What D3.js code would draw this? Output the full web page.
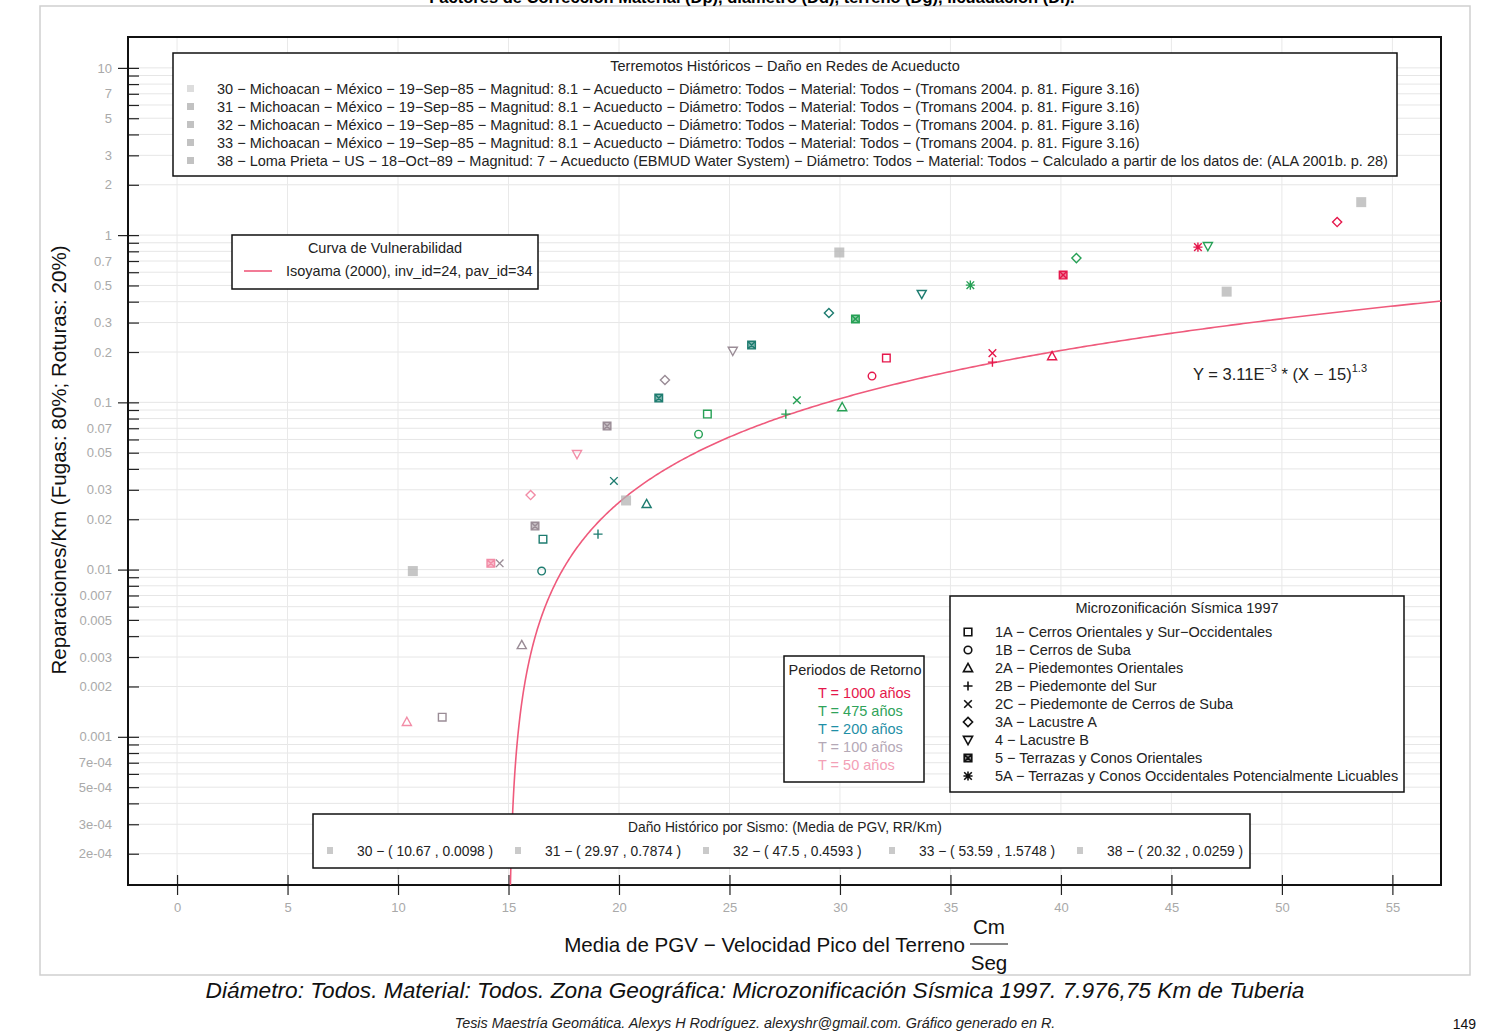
<!DOCTYPE html>
<html>
<head>
<meta charset="utf-8">
<script src="https://cdn.jsdelivr.net/npm/d3@7"></script>
<style>
  body { margin: 0; background: #fff; }
  svg { display: block; font-family: "Liberation Sans", Arial, sans-serif; }
</style>
</head>
<body>
<div id="chart"></div>
<script>
// Zonas de microzonificación
const zoneCodes = ["1A", "1B", "2A", "2B", "2C", "3A", "4", "5", "5A"];
const zoneNames = [
  "1A − Cerros Orientales y Sur−Occidentales",
  "1B − Cerros de Suba",
  "2A − Piedemontes Orientales",
  "2B − Piedemonte del Sur",
  "2C − Piedemonte de Cerros de Suba",
  "3A − Lacustre A",
  "4 − Lacustre B",
  "5 − Terrazas y Conos Orientales",
  "5A − Terrazas y Conos Occidentales Potencialmente Licuables"
];
const zoneShapes = ["square", "circle", "triUp", "plus", "cross", "diamond", "triDown", "boxX", "star"];

// Periodos de retorno
const periods = [1000, 475, 200, 100, 50];
const periodLabels = ["T = 1000 años", "T = 475 años", "T = 200 años", "T = 100 años", "T = 50 años"];

// Puntos (Media de PGV, RR/Km, zona, periodo)
const ptPgv = [12.0, 16.56, 24.0, 32.1,
  16.5, 23.6, 31.45,
  10.4, 15.6, 21.25, 30.1, 39.6,
  19.05, 27.55, 36.9,
  14.6, 19.77, 28.05, 36.9,
  16.0, 22.08, 29.5, 40.7, 52.5,
  18.1, 25.15, 33.7, 46.65,
  14.2, 16.2, 19.46, 21.8, 26.0, 30.7, 40.1,
  35.9, 46.2];
const ptRr = [0.00131, 0.0152, 0.0851, 0.184,
  0.0098, 0.0645, 0.1436,
  0.00123, 0.00354, 0.0247, 0.0937, 0.189,
  0.0163, 0.085, 0.174,
  0.0109, 0.0339, 0.103, 0.197,
  0.0279, 0.136, 0.342, 0.729, 1.197,
  0.049, 0.203, 0.444, 0.859,
  0.0109, 0.0182, 0.0721, 0.106, 0.22, 0.315, 0.577,
  0.502, 0.848];
const ptZone = ["1A", "1A", "1A", "1A",
  "1B", "1B", "1B",
  "2A", "2A", "2A", "2A", "2A",
  "2B", "2B", "2B",
  "2C", "2C", "2C", "2C",
  "3A", "3A", "3A", "3A", "3A",
  "4", "4", "4", "4",
  "5", "5", "5", "5", "5", "5", "5",
  "5A", "5A"];
const ptPeriod = [100, 200, 475, 1000,
  200, 475, 1000,
  50, 100, 200, 475, 1000,
  200, 475, 1000,
  100, 200, 475, 1000,
  50, 100, 200, 475, 1000,
  50, 100, 200, 475,
  50, 100, 100, 200, 200, 475, 1000,
  475, 1000];

// Terremotos históricos
const histPgv = [10.67, 29.97, 47.5, 53.59, 20.32];
const histRr  = [0.0098, 0.7874, 0.4593, 1.5748, 0.0259];
const histDesc = [
  "30 − Michoacan − México − 19−Sep−85 − Magnitud: 8.1 − Acueducto − Diámetro: Todos − Material: Todos − (Tromans 2004. p. 81. Figure 3.16)",
  "31 − Michoacan − México − 19−Sep−85 − Magnitud: 8.1 − Acueducto − Diámetro: Todos − Material: Todos − (Tromans 2004. p. 81. Figure 3.16)",
  "32 − Michoacan − México − 19−Sep−85 − Magnitud: 8.1 − Acueducto − Diámetro: Todos − Material: Todos − (Tromans 2004. p. 81. Figure 3.16)",
  "33 − Michoacan − México − 19−Sep−85 − Magnitud: 8.1 − Acueducto − Diámetro: Todos − Material: Todos − (Tromans 2004. p. 81. Figure 3.16)",
  "38 − Loma Prieta − US − 18−Oct−89 − Magnitud: 7 − Acueducto (EBMUD Water System) − Diámetro: Todos − Material: Todos − Calculado a partir de los datos de: (ALA 2001b. p. 28)"
];
const histLabels = ["30 − ( 10.67 , 0.0098 )", "31 − ( 29.97 , 0.7874 )", "32 − ( 47.5 , 0.4593 )", "33 − ( 53.59 , 1.5748 )", "38 − ( 20.32 , 0.0259 )"];

// Curva de vulnerabilidad Isoyama (2000): Y = a * (X - x0)^b
const curveA = 3.11e-3, curveX0 = 15, curveB = 1.3;

// Ejes
const xTicks = [0, 5, 10, 15, 20, 25, 30, 35, 40, 45, 50, 55];
const yTickValues = [10, 7, 5, 3, 2, 1, 0.7, 0.5, 0.3, 0.2, 0.1, 0.07, 0.05, 0.03, 0.02, 0.01, 0.007, 0.005, 0.003, 0.002, 0.001, 7e-4, 5e-4, 3e-4, 2e-4];
const yTickLabels = ["10", "7", "5", "3", "2", "1", "0.7", "0.5", "0.3", "0.2", "0.1", "0.07", "0.05", "0.03", "0.02", "0.01", "0.007", "0.005", "0.003", "0.002", "0.001", "7e-04", "5e-04", "3e-04", "2e-04"];
const yMajor = [10, 1, 0.1, 0.01, 0.001];

function symbolPath(shape, s) {
  const t = s * 1.2;
  switch (shape) {
    case "square": return `M${-s},${-s}h${2 * s}v${2 * s}h${-2 * s}Z`;
    case "circle": return `M${s},0A${s},${s} 0 1,1 ${-s},0A${s},${s} 0 1,1 ${s},0Z`;
    case "triUp": return `M0,${-t}L${t},${t * 0.8}L${-t},${t * 0.8}Z`;
    case "triDown": return `M0,${t}L${t},${-t * 0.8}L${-t},${-t * 0.8}Z`;
    case "plus": return `M${-t},0H${t}M0,${-t}V${t}`;
    case "cross": return `M${-s},${-s}L${s},${s}M${-s},${s}L${s},${-s}`;
    case "diamond": return `M0,${-t}L${t},0L0,${t}L${-t},0Z`;
    case "boxX": return `M${-s},${-s}h${2 * s}v${2 * s}h${-2 * s}ZM${-s},${-s}L${s},${s}M${-s},${s}L${s},${-s}`;
    case "star": return `M${-t},0H${t}M0,${-t}V${t}M${-s},${-s}L${s},${s}M${-s},${s}L${s},${-s}`;
  }
}

function render() {
  const W = 1490, H = 1033;
  const margin = { top: 37, right: 49, bottom: 148, left: 128 };
  const periodColors = d3.scaleOrdinal()
    .domain(periods)
    .range(["#e5174b", "#26a055", "#1e7c70", "#9a8c96", "#f28ca6"]);
  const legendTextColors = ["#e5174b", "#2fa35a", "#1f8fa6", "#b4a8b6", "#f3a0b6"];
  const histColor = "#b3b3b3";
  const fs = "14.5px";

  const svg = d3.select("#chart").append("svg")
    .attr("width", W)
    .attr("height", H);

  // marco de página
  svg.append("rect").attr("x", 40).attr("y", 6).attr("width", 1430).attr("height", 969)
    .attr("fill", "none").attr("stroke", "#cfcfcf").attr("stroke-width", 1.5);

  svg.append("text")
    .attr("x", 752).attr("y", 3)
    .attr("text-anchor", "middle")
    .style("font-size", "16.5px").style("font-weight", "bold")
    .text("Factores de Corrección Material (Dp), diámetro (Dd), terreno (Dg), licuadación (Dl).");

  const x = d3.scaleLinear()
    .domain([-2.22, 57.2])
    .range([margin.left, W - margin.right]);

  const y = d3.scaleLog()
    .domain([1.3e-4, 15.3])
    .range([H - margin.bottom, margin.top]);

  const x0 = margin.left, x1 = W - margin.right;
  const y0 = H - margin.bottom, y1 = margin.top;

  // Grids
  const minor = [];
  [0.0001, 0.001, 0.01, 0.1, 1, 10].forEach(d => {
    for (let k = 1; k < 10; k++) {
      const v = d * k;
      if (v >= 1.3e-4 && v <= 15.3) minor.push(v);
    }
  });

  svg.append("g")
    .attr("class", "grid")
    .selectAll("line")
    .data(minor)
    .join("line")
    .attr("x1", x0).attr("x2", x1)
    .attr("y1", d => y(d)).attr("y2", d => y(d))
    .attr("stroke", "#e6e6e6");

  svg.append("g")
    .attr("class", "grid")
    .selectAll("line")
    .data(xTicks)
    .join("line")
    .attr("x1", d => x(d)).attr("x2", d => x(d))
    .attr("y1", y1).attr("y2", y0)
    .attr("stroke", "#e9e9e9");

  // Axes
  const tickStyle = g => {
    g.select(".domain").remove();
    g.selectAll(".tick line").attr("stroke", "#222").attr("stroke-width", 1.2);
    g.selectAll(".tick text").attr("fill", "#a9a9a9").style("font-size", "13px");
  };

  svg.append("g")
    .attr("transform", `translate(${x0},0)`)
    .call(d3.axisLeft(y).tickValues(minor).tickSize(-11).tickFormat(""))
    .call(tickStyle);

  svg.append("g")
    .attr("transform", `translate(${x0},0)`)
    .call(d3.axisLeft(y).tickValues(yMajor).tickSize(10).tickFormat(""))
    .call(tickStyle);

  svg.append("g")
    .attr("transform", `translate(${x0},0)`)
    .call(d3.axisLeft(y).tickValues(yTickValues).tickSize(0).tickPadding(16)
      .tickFormat((d, i) => yTickLabels[i]))
    .call(tickStyle);

  svg.append("g")
    .attr("transform", `translate(0,${y0})`)
    .call(d3.axisBottom(x).tickValues(xTicks).tickSize(10).tickPadding(8).tickFormat(d3.format("d")))
    .call(tickStyle);

  svg.append("g")
    .attr("transform", `translate(0,${y0})`)
    .call(d3.axisBottom(x).tickValues(xTicks).tickSize(-10).tickFormat(""))
    .call(tickStyle);

  // caja del gráfico
  svg.append("rect")
    .attr("x", x0).attr("y", y1).attr("width", x1 - x0).attr("height", y0 - y1)
    .attr("fill", "none").attr("stroke", "#111").attr("stroke-width", 2);

  // Curva de vulnerabilidad
  svg.append("clipPath").attr("id", "plotclip")
    .append("rect").attr("x", x0).attr("y", y1).attr("width", x1 - x0).attr("height", y0 - y1);

  const xStart = curveX0 + Math.pow(y.domain()[0] / curveA, 1 / curveB);
  const curvePts = d3.range(0, 401).map(i => {
    const t = i / 400;
    const xv = xStart + (x.domain()[1] - xStart) * Math.pow(t, 2);
    return [xv, curveA * Math.pow(xv - curveX0, curveB)];
  });

  svg.append("path")
    .attr("clip-path", "url(#plotclip)")
    .attr("d", d3.line().x(d => x(d[0])).y(d => y(d[1]))(curvePts))
    .attr("fill", "none")
    .attr("stroke", "#ef5a7c")
    .attr("stroke-width", 1.6);

  // Sismos históricos
  svg.append("g")
    .selectAll("rect")
    .data(histPgv.map((v, i) => ({ pgv: v, rr: histRr[i] })))
    .join("rect")
    .attr("x", d => x(d.pgv) - 5).attr("y", d => y(d.rr) - 5)
    .attr("width", 10).attr("height", 10)
    .attr("fill", histColor).attr("opacity", 0.75);

  // Puntos de microzonificación
  const points = ptPgv.map((v, i) => ({
    pgv: v, rr: ptRr[i],
    shape: zoneShapes[zoneCodes.indexOf(ptZone[i])],
    period: ptPeriod[i]
  }));

  svg.append("g")
    .selectAll("path")
    .data(points)
    .join("path")
    .attr("transform", d => `translate(${x(d.pgv)},${y(d.rr)})`)
    .attr("d", d => symbolPath(d.shape, 3.8))
    .attr("fill", d => d.shape === "boxX" ? periodColors(d.period) : "none")
    .attr("fill-opacity", 0.55)
    .attr("stroke", d => periodColors(d.period))
    .attr("stroke-width", 1.4);

  // Ecuación
  const eq = svg.append("text")
    .attr("x", 1193).attr("y", 380)
    .style("font-size", "16.5px").attr("fill", "#222");
  eq.append("tspan").text("Y = 3.11E");
  eq.append("tspan").attr("dy", -8).style("font-size", "11px").text("−3");
  eq.append("tspan").attr("dy", 8).text(" * (X − 15)");
  eq.append("tspan").attr("dy", -8).style("font-size", "11px").text("1.3");

  // Leyenda: terremotos históricos
  const lg1 = svg.append("g");
  lg1.append("rect").attr("x", 173).attr("y", 53).attr("width", 1224).attr("height", 123)
    .attr("fill", "#fff").attr("stroke", "#111").attr("stroke-width", 1.5);
  lg1.append("text").attr("x", 785).attr("y", 71).attr("text-anchor", "middle")
    .style("font-size", fs).attr("fill", "#222").text("Terremotos Históricos − Daño en Redes de Acueducto");
  histDesc.forEach((t, i) => {
    lg1.append("rect").attr("x", 187).attr("y", 85 + i * 18).attr("width", 7).attr("height", 7)
      .attr("fill", histColor).attr("opacity", i === 0 ? 0.45 : 0.8);
    lg1.append("text").attr("x", 217).attr("y", 94 + i * 18)
      .style("font-size", fs).attr("fill", "#222").text(t);
  });

  // Leyenda: curva
  const lg2 = svg.append("g");
  lg2.append("rect").attr("x", 232).attr("y", 235).attr("width", 306).attr("height", 54)
    .attr("fill", "#fff").attr("stroke", "#111").attr("stroke-width", 1.5);
  lg2.append("text").attr("x", 385).attr("y", 253).attr("text-anchor", "middle")
    .style("font-size", fs).attr("fill", "#222").text("Curva de Vulnerabilidad");
  lg2.append("line").attr("x1", 244).attr("x2", 272).attr("y1", 271).attr("y2", 271)
    .attr("stroke", "#ef5a7c").attr("stroke-width", 1.6);
  lg2.append("text").attr("x", 286).attr("y", 276)
    .style("font-size", fs).attr("fill", "#222").text("Isoyama (2000), inv_id=24, pav_id=34");

  // Leyenda: periodos de retorno
  const lg3 = svg.append("g");
  lg3.append("rect").attr("x", 784).attr("y", 656).attr("width", 140).attr("height", 126)
    .attr("fill", "#fff").attr("stroke", "#111").attr("stroke-width", 1.5);
  lg3.append("text").attr("x", 855).attr("y", 675).attr("text-anchor", "middle")
    .style("font-size", fs).attr("fill", "#222").text("Periodos de Retorno");
  periodLabels.forEach((t, i) => {
    lg3.append("text").attr("x", 818).attr("y", 698 + i * 18)
      .style("font-size", fs).attr("fill", legendTextColors[i]).text(t);
  });

  // Leyenda: microzonificación
  const lg4 = svg.append("g");
  lg4.append("rect").attr("x", 950).attr("y", 596).attr("width", 454).attr("height", 196)
    .attr("fill", "#fff").attr("stroke", "#111").attr("stroke-width", 1.5);
  lg4.append("text").attr("x", 1177).attr("y", 613).attr("text-anchor", "middle")
    .style("font-size", fs).attr("fill", "#222").text("Microzonificación Sísmica 1997");
  zoneNames.forEach((t, i) => {
    lg4.append("path")
      .attr("transform", `translate(968,${632 + i * 18})`)
      .attr("d", symbolPath(zoneShapes[i], 3.8))
      .attr("fill", zoneShapes[i] === "boxX" ? "#111" : "none")
      .attr("fill-opacity", 0.5)
      .attr("stroke", "#111").attr("stroke-width", 1.6);
    lg4.append("text").attr("x", 995).attr("y", 637 + i * 18)
      .style("font-size", fs).attr("fill", "#222").text(t);
  });

  // Leyenda: daño histórico por sismo
  const lg5 = svg.append("g");
  lg5.append("rect").attr("x", 313).attr("y", 814).attr("width", 937).attr("height", 54)
    .attr("fill", "#fff").attr("stroke", "#111").attr("stroke-width", 1.5);
  lg5.append("text").attr("x", 785).attr("y", 832).attr("text-anchor", "middle")
    .style("font-size", "13.8px").attr("fill", "#222").text("Daño Histórico por Sismo: (Media de PGV, RR/Km)");
  const histX = [330, 518, 706, 892, 1080];
  histLabels.forEach((t, i) => {
    lg5.append("rect").attr("x", histX[i] - 3).attr("y", 847).attr("width", 6).attr("height", 7)
      .attr("fill", histColor).attr("opacity", 0.7);
    lg5.append("text").attr("x", histX[i] + 27).attr("y", 856)
      .style("font-size", "13.8px").attr("fill", "#222").text(t);
  });

  // Títulos de ejes
  svg.append("text")
    .attr("transform", "translate(66,460) rotate(-90)")
    .attr("text-anchor", "middle")
    .style("font-size", "20.6px").attr("fill", "#111")
    .text("Reparaciones/Km (Fugas: 80%; Roturas: 20%)");

  svg.append("text")
    .attr("x", 965).attr("y", 952).attr("text-anchor", "end")
    .style("font-size", "20.6px").attr("fill", "#111")
    .text("Media de PGV − Velocidad Pico del Terreno");
  svg.append("text").attr("x", 989).attr("y", 934).attr("text-anchor", "middle")
    .style("font-size", "20.6px").attr("fill", "#111").text("Cm");
  svg.append("line").attr("x1", 970).attr("x2", 1008).attr("y1", 944).attr("y2", 944)
    .attr("stroke", "#111").attr("stroke-width", 1.2);
  svg.append("text").attr("x", 989).attr("y", 970).attr("text-anchor", "middle")
    .style("font-size", "20.6px").attr("fill", "#111").text("Seg");

  // Pie
  svg.append("text")
    .attr("x", 755).attr("y", 998).attr("text-anchor", "middle")
    .style("font-size", "22.7px").style("font-style", "italic").attr("fill", "#111")
    .text("Diámetro: Todos. Material: Todos. Zona Geográfica: Microzonificación Sísmica 1997. 7.976,75 Km de Tuberia");
  svg.append("text")
    .attr("x", 755).attr("y", 1028).attr("text-anchor", "middle")
    .style("font-size", "14.4px").style("font-style", "italic").attr("fill", "#222")
    .text("Tesis Maestría Geomática. Alexys H Rodríguez. alexyshr@gmail.com. Gráfico generado en R.");
  svg.append("text")
    .attr("x", 1476).attr("y", 1029).attr("text-anchor", "end")
    .style("font-size", "14px").attr("fill", "#111").text("149");
}

render();
</script>
</body>
</html>
